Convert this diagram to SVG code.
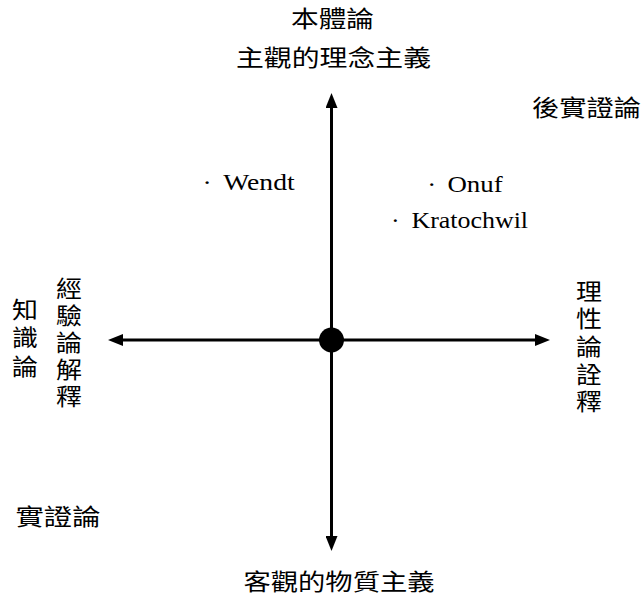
<svg xmlns="http://www.w3.org/2000/svg" width="642" height="597" viewBox="0 0 642 597">
<style>
.cjk{font-family:"Noto Sans CJK TC","Noto Sans CJK SC",sans-serif;font-size:23px;fill:#000;}
.vcol{writing-mode:vertical-rl;text-orientation:upright;}
.name{font-family:"Liberation Serif","Times New Roman",serif;font-size:24px;fill:#000;}
.axis{stroke:#000;stroke-width:3;fill:none;marker-end:url(#arr);}
</style>
<defs>
<marker id="arr" markerUnits="userSpaceOnUse" markerWidth="15" markerHeight="12" refX="5" refY="6" orient="auto" viewBox="0 0 15 12">
<path d="M0,0 L15,6 L0,12 Z" fill="#000"/>
</marker>
</defs>
<rect width="642" height="597" fill="#fff"/>
<g id="connectors">
<path class="axis" d="M331.5,340 L331.5,103"/>
<path class="axis" d="M331.5,340 L331.5,541"/>
<path class="axis" d="M331.5,340 L118,340"/>
<path class="axis" d="M331.5,340 L540,340"/>
</g>
<g id="origin"><circle cx="331.5" cy="340" r="12.5" fill="#000"/></g>
<g id="top-label">
<text class="cjk" x="291" y="27" textLength="83" lengthAdjust="spacingAndGlyphs">本體論</text>
<text class="cjk" x="236" y="66" textLength="195" lengthAdjust="spacingAndGlyphs">主觀的理念主義</text>
</g>
<g id="post-positivism"><text class="cjk" x="532" y="116" textLength="109" lengthAdjust="spacingAndGlyphs">後實證論</text></g>
<g id="bottom-label"><text class="cjk" x="243.5" y="589.5" textLength="191" lengthAdjust="spacingAndGlyphs">客觀的物質主義</text></g>
<g id="positivism"><text class="cjk" x="15.5" y="524.5" textLength="85" lengthAdjust="spacingAndGlyphs">實證論</text></g>
<g id="epistemology">
<text class="cjk vcol" transform="translate(25,0) scale(1.13,1)" x="0" y="297.5" letter-spacing="5.5">知識論</text>
</g>
<g id="empirical">
<text class="cjk vcol" transform="translate(69,0) scale(1.13,1)" x="0" y="276.5" letter-spacing="4.1">經驗論解釋</text>
</g>
<g id="rational">
<text class="cjk vcol" transform="translate(589,0) scale(1.13,1)" x="0" y="279.3" letter-spacing="4.7">理性論詮釋</text>
</g>
<g id="wendt"><text class="name" transform="translate(202.6,190) scale(1.15,1)">· <tspan dx="4">Wendt</tspan></text></g>
<g id="onuf"><text class="name" transform="translate(427.3,192) scale(1.12,1)">· <tspan dx="4">Onuf</tspan></text></g>
<g id="kratochwil"><text class="name" transform="translate(391,228) scale(1.08,1)">· <tspan dx="5">Kratochwil</tspan></text></g>
</svg>
